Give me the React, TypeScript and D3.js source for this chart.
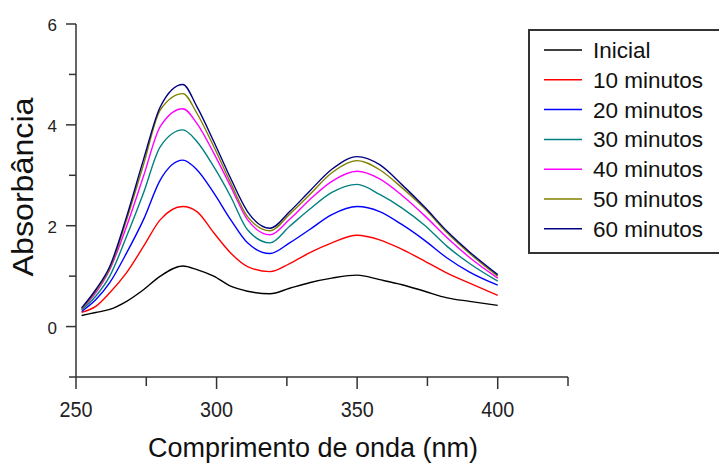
import * as d3 from "d3";
import { useEffect } from "react";

// wavelength grid (nm)
const wavelengths = [252, 257, 262, 268, 274, 280, 288, 293, 299, 305, 311, 319, 326, 333, 341, 350, 358, 366, 374, 382, 390, 400];

const inicial = [0.22, 0.28, 0.34, 0.5, 0.73, 1.0, 1.2, 1.13, 1.0, 0.8, 0.7, 0.65, 0.76, 0.87, 0.96, 1.02, 0.93, 0.83, 0.7, 0.57, 0.5, 0.42];
const min10 = [0.28, 0.4, 0.67, 1.07, 1.59, 2.12, 2.38, 2.28, 1.86, 1.46, 1.19, 1.09, 1.25, 1.46, 1.66, 1.81, 1.72, 1.53, 1.3, 1.06, 0.86, 0.62];
const min20 = [0.3, 0.53, 0.87, 1.46, 2.12, 2.91, 3.3, 3.11, 2.65, 2.12, 1.66, 1.45, 1.66, 1.92, 2.22, 2.38, 2.28, 2.02, 1.71, 1.36, 1.08, 0.82];
const min30 = [0.33, 0.6, 1.0, 1.79, 2.65, 3.57, 3.9, 3.67, 3.17, 2.58, 1.92, 1.66, 1.99, 2.32, 2.66, 2.82, 2.62, 2.35, 2.01, 1.59, 1.25, 0.9];
const min40 = [0.35, 0.67, 1.13, 1.99, 2.98, 3.97, 4.32, 4.03, 3.44, 2.78, 2.12, 1.82, 2.13, 2.51, 2.88, 3.08, 2.93, 2.6, 2.2, 1.76, 1.37, 0.96];
const min50 = [0.35, 0.7, 1.15, 2.12, 3.21, 4.3, 4.62, 4.23, 3.57, 2.85, 2.18, 1.9, 2.23, 2.61, 3.05, 3.29, 3.11, 2.75, 2.34, 1.86, 1.45, 1.0];
const min60 = [0.37, 0.73, 1.19, 2.18, 3.31, 4.36, 4.8, 4.36, 3.67, 2.94, 2.28, 1.95, 2.28, 2.68, 3.12, 3.37, 3.21, 2.81, 2.37, 1.89, 1.48, 1.03];

const seriesNames = ["Inicial", "10 minutos", "20 minutos", "30 minutos", "40 minutos", "50 minutos", "60 minutos"];
const seriesValues = [inicial, min10, min20, min30, min40, min50, min60];
const colors = ["#000000", "#ff0000", "#0000ff", "#008080", "#ff00ff", "#808000", "#000080"];

const xTicks = [250, 300, 350, 400];
const xMinorTicks = [275, 325, 375, 425];
const yTicks = [0, 2, 4, 6];
const yMinorTicks = [-1, 1, 3, 5];

const font = "'Liberation Sans', Arial, sans-serif";
const axisColor = "#333";

export default function App() {
  useEffect(() => {
    document.body.style.margin = "0";
  }, []);

  const width = 719;
  const height = 465;
  const x = d3.scaleLinear().domain([250, 425]).range([76, 568]);
  const y = d3.scaleLinear().domain([-1, 6]).range([377, 24]);

  const line = d3
    .line<number>()
    .x((_, i) => x(wavelengths[i]))
    .y((d) => y(d))
    .curve(d3.curveMonotoneX);

  const legendX = 529;
  const legendY = 30;

  return (
    <svg width={width} height={height} style={{ display: "block", background: "#fff" }}>
      {/* curves */}
      <g fill="none" strokeWidth={1.4}>
        {seriesValues.map((vals, i) => (
          <path key={seriesNames[i]} d={line(vals) || ""} stroke={colors[i]} />
        ))}
      </g>

      {/* x axis */}
      <g stroke={axisColor} strokeWidth={1.5}>
        <line x1={x(250)} x2={x(425)} y1={y(-1)} y2={y(-1)} />
        {xTicks.map((t) => (
          <line key={t} x1={x(t)} x2={x(t)} y1={y(-1)} y2={y(-1) + 12} />
        ))}
        {xMinorTicks.map((t) => (
          <line key={t} x1={x(t)} x2={x(t)} y1={y(-1)} y2={y(-1) + 9} />
        ))}
      </g>
      {xTicks.map((t) => (
        <text key={t} x={x(t)} y={417} textAnchor="middle" fontFamily={font} fontSize={22} fill="#222" textLength={33} lengthAdjust="spacingAndGlyphs">
          {t}
        </text>
      ))}
      <text x={313} y={457} textAnchor="middle" fontFamily={font} fontSize={27} fill="#111">
        Comprimento de onda (nm)
      </text>

      {/* y axis */}
      <g stroke={axisColor} strokeWidth={1.5}>
        <line x1={x(250)} x2={x(250)} y1={y(6)} y2={y(-1)} />
        {yTicks.map((t) => (
          <line key={t} x1={x(250) - 10} x2={x(250)} y1={y(t)} y2={y(t)} />
        ))}
        {yMinorTicks.map((t) => (
          <line key={t} x1={x(250) - 7} x2={x(250)} y1={y(t)} y2={y(t)} />
        ))}
      </g>
      {yTicks.map((t) => (
        <text key={t} x={57} y={y(t) + 7} textAnchor="end" fontFamily={font} fontSize={17} fill="#222">
          {t}
        </text>
      ))}
      <text
        transform="translate(33,187) rotate(-90)"
        textAnchor="middle"
        fontFamily={font}
        fontSize={29}
        fill="#111"
        textLength={179}
        lengthAdjust="spacingAndGlyphs"
      >
        Absorbância
      </text>

      {/* legend */}
      <rect x={legendX} y={legendY} width={200} height={223} fill="#fff" stroke={axisColor} strokeWidth={2} />
      {seriesNames.map((name, i) => {
        const base = 58 + i * 29.8;
        return (
          <g key={name}>
            <line x1={544} x2={582} y1={base - 8} y2={base - 8} stroke={colors[i]} strokeWidth={1.5} />
            <text x={593} y={base} fontFamily={font} fontSize={22.5} fill="#111">
              {name}
            </text>
          </g>
        );
      })}
    </svg>
  );
}
